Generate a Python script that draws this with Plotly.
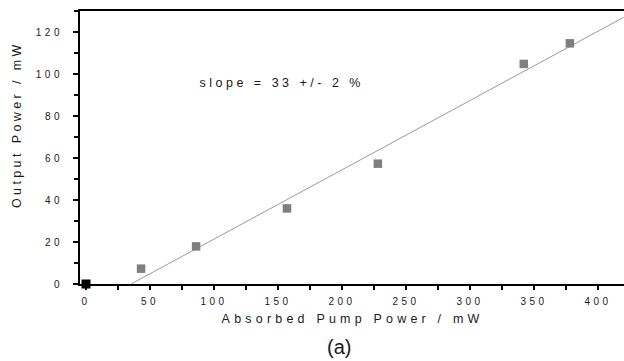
import plotly.graph_objects as go

# Data
absorbed_power = [43, 86, 157, 228, 342, 378]      # mW
output_power = [7.3, 17.9, 36.0, 57.3, 104.8, 114.6]  # mW
origin_x = [0]
origin_y = [0]

# Linear fit: slope 33 %, threshold ~35 mW
slope = 0.33
threshold = 35.2
fit_x = [threshold, 420]
fit_y = [slope * (x - threshold) for x in fit_x]

x_ticks = [0, 50, 100, 150, 200, 250, 300, 350, 400]
y_ticks = [0, 20, 40, 60, 80, 100, 120]

FONT = "Liberation Sans, Arial, Helvetica, sans-serif"

fig = go.Figure()
fig.add_trace(go.Scatter(x=fit_x, y=fit_y, mode="lines",
                         line=dict(color="#9a9a9a", width=1),
                         hoverinfo="skip", showlegend=False))
fig.add_trace(go.Scatter(x=absorbed_power, y=output_power, mode="markers",
                         marker=dict(symbol="square", size=8.5, color="#7f7f7f",
                                     line=dict(width=0)),
                         showlegend=False))
fig.add_trace(go.Scatter(x=origin_x, y=origin_y, mode="markers",
                         marker=dict(symbol="square", size=9, color="black",
                                     line=dict(width=0)),
                         cliponaxis=False, showlegend=False))

fig.update_layout(
    width=624, height=361,
    margin=dict(l=80, r=0, t=11, b=77),
    paper_bgcolor="white", plot_bgcolor="white",
    font=dict(family=FONT, color="#1a1a1a"),
    showlegend=False,
    xaxis=dict(range=[-4.7, 420.3], tickvals=x_ticks, ticktext=[str(v) for v in x_ticks],
               showgrid=False, zeroline=False, showline=True, linecolor="black", linewidth=2,
               mirror=True, ticks="outside", ticklen=4, tickwidth=1.5, tickcolor="black",
               tickfont=dict(size=10, family=FONT, color="#1a1a1a"),
               minor=dict(dtick=25, tick0=0, ticks="outside", ticklen=4, tickwidth=1.5,
                          tickcolor="black", showgrid=False),
               ticklabelstandoff=3),
    yaxis=dict(range=[0, 130], tickvals=y_ticks, ticktext=[str(v) for v in y_ticks],
               showgrid=False, zeroline=False, showline=True, linecolor="black", linewidth=2,
               mirror=False, ticks="outside", ticklen=5, tickwidth=1.5, tickcolor="black",
               tickfont=dict(size=10, family=FONT, color="#1a1a1a"),
               minor=dict(dtick=10, tick0=0, ticks="outside", ticklen=4, tickwidth=1.5,
                          tickcolor="black", showgrid=False),
               ticklabelstandoff=8),
    annotations=[
        dict(text="Absorbed Pump Power / mW", xref="paper", yref="paper",
             x=0.5, y=-0.128, xanchor="center", yanchor="middle", showarrow=False,
             font=dict(size=12.5, family=FONT, color="#1a1a1a")),
        dict(text="Output Power / mW", xref="paper", yref="paper",
             x=-0.116, y=0.585, xanchor="center", yanchor="middle", textangle=-90,
             showarrow=False, font=dict(size=12.5, family=FONT, color="#1a1a1a")),
        dict(text="slope = 33 +/- 2 %", xref="x", yref="y",
             x=153, y=95.5, xanchor="center", yanchor="middle", showarrow=False,
             font=dict(size=12.5, family=FONT, color="#1a1a1a")),
        dict(text="(a)", xref="paper", yref="paper",
             x=0.476, y=-0.231, xanchor="center", yanchor="middle", showarrow=False,
             font=dict(size=20, family=FONT, color="#1a1a1a")),
    ],
)

post = """
document.body.style.margin='0';
document.body.style.padding='0';
var gd = document.getElementById('{plot_id}');
function spaceIt(){
  gd.querySelectorAll('.xtick text, .ytick text').forEach(function(t){ t.style.letterSpacing='3.5px'; });
  gd.querySelectorAll('.annotation-text').forEach(function(t){
    var s = t.textContent.trim();
    if (s.indexOf('Absorbed') === 0) t.style.letterSpacing='4.2px';
    else if (s.indexOf('Output') === 0) t.style.letterSpacing='3.4px';
    else if (s.indexOf('slope') === 0) t.style.letterSpacing='3.5px';
  });
}
spaceIt();
gd.on('plotly_afterplot', spaceIt);
"""

fig.write_html("out.html", post_script=post, config={"displayModeBar": False})
